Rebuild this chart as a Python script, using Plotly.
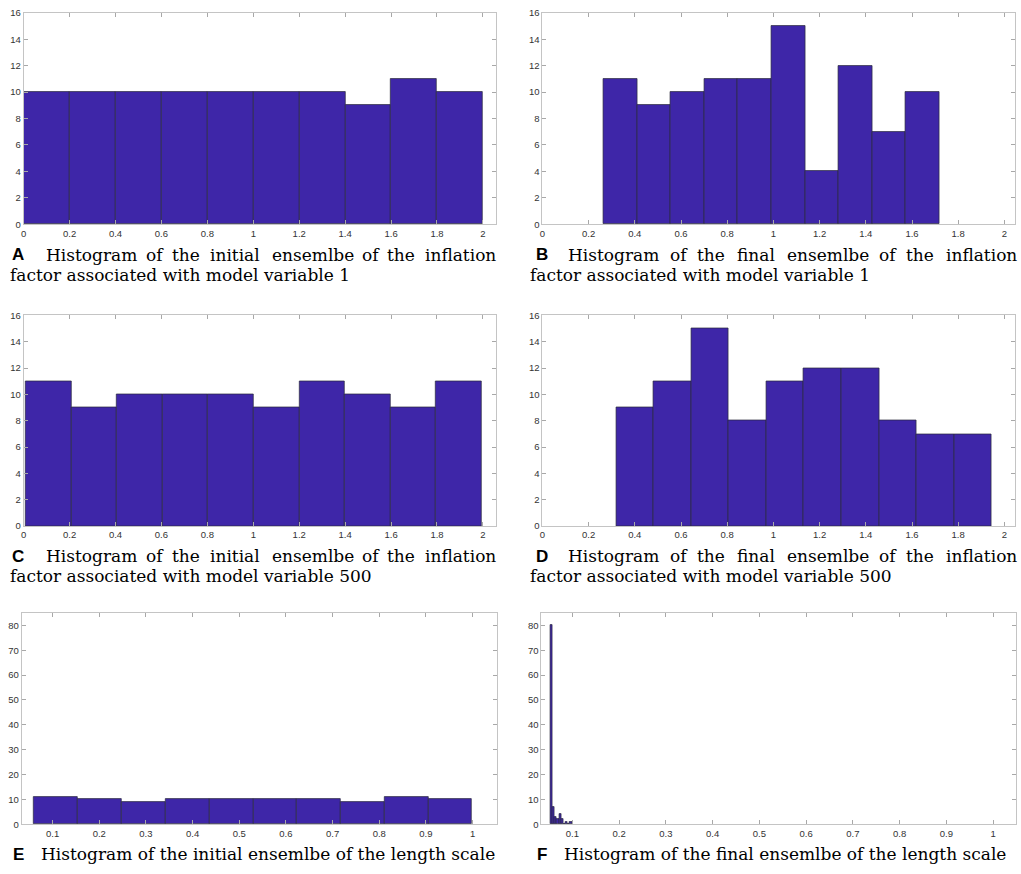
"""Six histograms of the inflation factor and length scale ensembles."""

import plotly.graph_objects as go

W, H = 1021, 874

# bin edges and counts
a_edges = [0.0, 0.2, 0.4, 0.6, 0.8, 1.0, 1.2, 1.4, 1.6, 1.8, 2.0]
a_counts = [10, 10, 10, 10, 10, 10, 10, 9, 11, 10]

b_edges = [0.266, 0.411, 0.556, 0.701, 0.846, 0.992, 1.137, 1.282, 1.427, 1.572, 1.718]
b_counts = [11, 9, 10, 11, 11, 15, 4, 12, 7, 10]

c_edges = [0.009, 0.2075, 0.406, 0.6045, 0.803, 1.0015, 1.2, 1.3985, 1.597, 1.7955, 1.994]
c_counts = [11, 9, 10, 10, 10, 9, 11, 10, 9, 11]

d_edges = [0.320, 0.482, 0.645, 0.807, 0.970, 1.132, 1.295, 1.457, 1.620, 1.782, 1.945]
d_counts = [9, 11, 15, 8, 11, 12, 12, 8, 7, 7]

e_edges = [0.060, 0.154, 0.248, 0.342, 0.436, 0.530, 0.624, 0.718, 0.811, 0.905, 0.999]
e_counts = [11, 10, 9, 10, 10, 10, 10, 9, 11, 10]

f_edges = [0.0529, 0.0575, 0.0622, 0.0668, 0.0714, 0.0761, 0.0807, 0.0853, 0.0899, 0.0946, 0.0992]
f_counts = [80, 7, 3, 2, 4, 2, 0, 1, 0, 1]

infl_xticks = [0, 0.2, 0.4, 0.6, 0.8, 1, 1.2, 1.4, 1.6, 1.8, 2]
infl_yticks = [0, 2, 4, 6, 8, 10, 12, 14, 16]
len_xticks = [0.1, 0.2, 0.3, 0.4, 0.5, 0.6, 0.7, 0.8, 0.9, 1]
len_yticks = [0, 10, 20, 30, 40, 50, 60, 70, 80]

BAR = "#3e26a8"
FRAME = "#c4c4c4"
SERIF = "DejaVu Serif"


def px_x(v):
    return v / W


def px_y(v):
    return 1 - v / H


# (edges, counts, left, right, top, bottom, xrange, yrange, xticks, yticks)
panels = [
    (a_edges, a_counts, 20.7, 494.7, 7, 221, [0, 2.058], [0, 16], infl_xticks, infl_yticks),
    (b_edges, b_counts, 541, 1015, 7, 221, [0, 2.046], [0, 16], infl_xticks, infl_yticks),
    (c_edges, c_counts, 20.7, 494.7, 313.3, 526.7, [0, 2.058], [0, 16], infl_xticks, infl_yticks),
    (d_edges, d_counts, 541, 1015, 313.3, 526.7, [0, 2.046], [0, 16], infl_xticks, infl_yticks),
    (e_edges, e_counts, 18.7, 495.3, 614.7, 828.7, [0.0337, 1.052], [0, 85], len_xticks, len_yticks),
    (f_edges, f_counts, 540, 1016, 614.7, 828.7, [0.0337, 1.049], [0, 85], len_xticks, len_yticks),
]

fig = go.Figure()
layout = {}
for i, (edges, counts, l, r, t, b, xr, yr, xt, yt) in enumerate(panels, start=1):
    suffix = "" if i == 1 else str(i)
    fig.add_trace(go.Bar(
        x=edges[:-1],
        y=counts,
        width=[e1 - e0 for e0, e1 in zip(edges[:-1], edges[1:])],
        offset=0,
        marker=dict(color=BAR, line=dict(color="#2a2a3a", width=0.7)),
        xaxis="x" + suffix,
        yaxis="y" + suffix,
        hoverinfo="x+y",
    ))
    common = dict(
        showline=True, linecolor=FRAME, linewidth=1, mirror="ticks",
        ticks="inside", ticklen=4, tickcolor="#a8a8a8", tickwidth=1,
        showgrid=False, zeroline=False, fixedrange=True,
        tickfont=dict(family="Liberation Sans", size=9.5, color="#333333"),
    )
    layout["xaxis" + suffix] = dict(
        common, domain=[px_x(l), px_x(r)], range=xr, tickvals=xt,
        anchor="y" + suffix,
    )
    layout["yaxis" + suffix] = dict(
        common, domain=[px_y(b), px_y(t)], range=yr, tickvals=yt,
        anchor="x" + suffix,
    )

annotations = []


def text(x, y, s, bold=False, size=17, anchor="left"):
    annotations.append(dict(
        x=px_x(x), y=px_y(y), xref="paper", yref="paper",
        text=s, showarrow=False, xanchor=anchor, yanchor="middle",
        font=dict(
            family="Liberation Sans" if bold else SERIF,
            size=size, color="black",
            weight="bold" if bold else "normal",
        ),
    ))


def justified(words, starts, y):
    for w, x in zip(words, starts):
        text(x, y, w)


left_starts = [40.7, 141.7, 167.7, 205.7, 267.7, 357.7, 382.7, 421.7]
right_starts = [564.3, 667, 694.4, 734.1, 784.3, 876.7, 904.1, 943.8]
initial_words = "Histogram of the initial ensemlbe of the inflation".split()
final_words = "Histogram of the final ensemlbe of the inflation".split()

# A
text(7.5, 251.7, "A", bold=True)
justified(initial_words, left_starts, 251.7)
text(5, 272.3, "factor associated with model variable 1")
# B
text(533, 251.7, "B", bold=True)
justified(final_words, right_starts, 251.7)
text(526.7, 272.3, "factor associated with model variable 1")
# C
text(7.5, 557.3, "C", bold=True)
justified(initial_words, left_starts, 557.3)
text(5, 577.3, "factor associated with model variable 500")
# D
text(533, 557.3, "D", bold=True)
justified(final_words, right_starts, 557.3)
text(526.7, 577.3, "factor associated with model variable 500")
# E
text(8, 859.3, "E", bold=True)
text(35.7, 859.3, "Histogram of the initial ensemlbe of the length scale")
# F
text(534, 859.3, "F", bold=True)
text(560.7, 859.3, "Histogram of the final ensemlbe of the length scale")

fig.update_layout(
    layout,
    annotations=annotations,
    width=W,
    height=H,
    margin=dict(l=0, r=0, t=0, b=0),
    showlegend=False,
    bargap=0,
    plot_bgcolor="white",
    paper_bgcolor="white",
)

fig.write_html(
    "out.html",
    config={"displayModeBar": False},
    post_script="document.body.style.margin='0';"
                "document.body.style.overflow='hidden';",
)
